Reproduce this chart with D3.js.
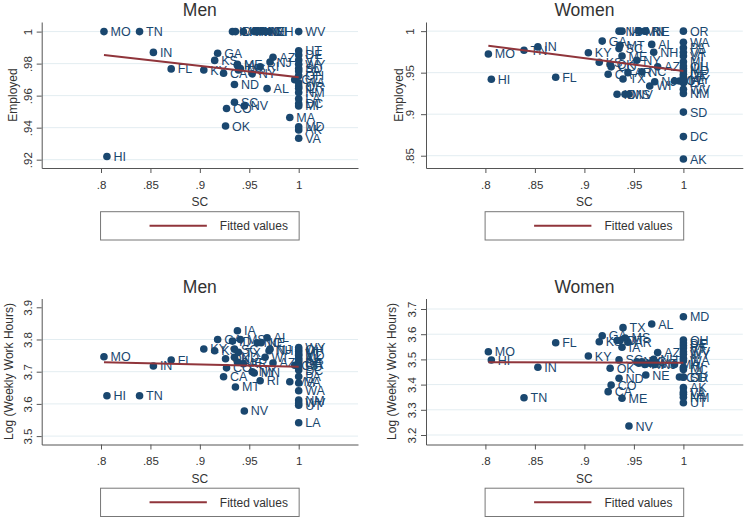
<!DOCTYPE html>
<html>
<head>
<meta charset="utf-8">
<script src="https://cdn.jsdelivr.net/npm/d3@7"></script>
<style>
  body { margin: 0; background: #fff; }
  text { font-family: "Liberation Sans", Arial, sans-serif; }
</style>
</head>
<body>
<script>
// states and their SC value (same x for every panel)
var states = ["AL","AK","AZ","AR","CA","CO","CT","DE","DC","FL","GA","HI","ID","IL","IN","IA","KS","KY","LA","ME","MD","MA","MI","MN","MS","MO","MT","NE","NV","NH","NJ","NM","NY","NC","ND","OH","OK","OR","PA","RI","SC","SD","TN","TX","UT","VT","VA","WA","WV","WI","WY"];
var sc = [.968,1,.974,.944,.924,.927,.996,1,1,.871,.918,.806,.933,1,.853,.938,.915,.904,1,.938,1,.991,1,.955,.941,.803,.936,.962,.945,.970,.971,1,.953,.958,.935,1,.926,1,1,.961,.935,1,.839,.939,1,1,1,1,1,.966,1];

var menEmp = [.9644,.9386,.984,1,.974,.952,.970,.9854,.955,.9767,.9865,.922,1,.9646,.987,.979,.982,.976,.958,.9795,.9406,.9463,.9536,1,.977,1,1,1,.9536,1,.981,.962,.9736,1,.967,.9725,.941,.966,.9754,.978,.9559,.977,1,.976,.988,.9823,.9334,.968,1,1,.9796];
var womenEmp = [.984,.846,.957,.95,.948,.957,.94,.948,.873,.9445,.988,.942,.924,.955,.981,1,.9625,.974,.938,.97,.952,.94,.963,1,.924,.9725,.983,1,.924,.9745,.939,.925,.965,.951,1,.958,.96,1,.98,1,.979,.9025,.977,.9424,.945,.97,.9746,.9866,.93,.934,.942];
var menHrs = [3.8056,3.742,3.727,3.725,3.6845,3.712,3.72,3.73,3.705,3.736,3.80,3.6255,3.795,3.736,3.7177,3.827,3.765,3.7705,3.5416,3.73,3.75,3.669,3.762,3.696,3.80,3.7466,3.6525,3.79,3.578,3.765,3.77,3.612,3.70,3.79,3.745,3.768,3.74,3.722,3.685,3.672,3.77,3.716,3.6255,3.76,3.596,3.755,3.665,3.641,3.603,3.745,3.775];
var womenHrs = [3.6405,3.388,3.527,3.568,3.372,3.398,3.43,3.565,3.46,3.566,3.594,3.4976,3.575,3.505,3.4686,3.548,3.57,3.5135,3.362,3.3456,3.6695,3.48,3.469,3.485,3.585,3.5306,3.575,3.438,3.2357,3.50,3.48,3.35,3.49,3.49,3.425,3.577,3.465,3.43,3.555,3.48,3.498,3.429,3.348,3.626,3.328,3.545,3.37,3.495,3.53,3.485,3.52];

// fitted values at the ends of the SC range
var fitX = [.803, 1];
var fitMenEmp = [.9854, .9715];
var fitWomenEmp = [.9825, .952];
var fitMenHrs = [3.7292, 3.7155];
var fitWomenHrs = [3.4885, 3.487];

var xTicks = [.8, .85, .9, .95, 1];
var menEmpTicks = [.92, .94, .96, .98, 1];
var womenEmpTicks = [.85, .9, .95, 1];
var menHrsTicks = [3.5, 3.6, 3.7, 3.8, 3.9];
var womenHrsTicks = [3.2, 3.3, 3.4, 3.5, 3.6, 3.7];

var navy = "#1a476f", maroon = "#90353b";
var fmt = function(v){ return String(+v.toFixed(3)).replace(/^0\./, "."); };

var svg = d3.select("body").append("svg")
    .attr("width", 746)
    .attr("height", 519);

var panels = [
  {title:"Men", ytitle:"Employed", vals:menEmp, fit:fitMenEmp, ticks:menEmpTicks, grid:menEmpTicks,
   yDomain:[.9148, 1.006], left:41.7, right:358, top:22, bottom:168, labOff:13.4, titleOff:29.4},
  {title:"Women", ytitle:"Employed", vals:womenEmp, fit:fitWomenEmp, ticks:womenEmpTicks, grid:womenEmpTicks,
   yDomain:[.8352, 1.011], left:426, right:742.8, top:22, bottom:168, labOff:16, titleOff:27.7},
  {title:"Men", ytitle:"Log (Weekly Work Hours)", vals:menHrs, fit:fitMenHrs, ticks:menHrsTicks, grid:[3.5,3.6,3.7,3.8],
   yDomain:[3.4739, 3.9273], left:41.7, right:358, top:298.5, bottom:444.5, labOff:13.4, titleOff:33.4},
  {title:"Women", ytitle:"Log (Weekly Work Hours)", vals:womenHrs, fit:fitWomenHrs, ticks:womenHrsTicks, grid:womenHrsTicks,
   yDomain:[3.1623, 3.7417], left:426, right:742.8, top:298.5, bottom:444.5, labOff:14, titleOff:34}
];

panels.forEach(function(p){
  var x = d3.scaleLinear().domain([.74, 1.06]).range([p.left, p.right]);
  var y = d3.scaleLinear().domain(p.yDomain).range([p.bottom, p.top]);
  var cx = (p.left + p.right) / 2;
  var g = svg.append("g");

  g.selectAll(".grid")
    .data(p.grid)
    .enter()
    .append("line")
    .attr("x1", p.left).attr("x2", p.right)
    .attr("y1", d => y(d)).attr("y2", d => y(d))
    .attr("stroke", "#e3edf1")
    .attr("stroke-width", 1);

  var ya = g.append("g")
    .attr("transform", "translate(" + p.left + ",0)")
    .call(d3.axisLeft(y).tickValues(p.ticks).tickSize(5).tickSizeOuter(0).tickFormat(fmt));
  ya.selectAll("text")
    .attr("x", 0).attr("dy", "0.35em")
    .attr("text-anchor", "middle")
    .attr("transform", "translate(" + (-p.labOff) + ",0) rotate(-90)")
    .style("font-size", "11.5px").attr("fill", "#333");

  var xa = g.append("g")
    .attr("transform", "translate(0," + p.bottom + ")")
    .call(d3.axisBottom(x).tickValues(xTicks).tickSize(5).tickSizeOuter(0).tickFormat(fmt));
  xa.selectAll("text").attr("y", 12.5).style("font-size", "11.5px").attr("fill", "#333");

  [ya, xa].forEach(function(a){
    a.select(".domain").attr("stroke", "#555");
    a.selectAll(".tick line").attr("stroke", "#555");
  });

  g.append("text")
    .attr("x", cx).attr("y", p.top - 6)
    .attr("text-anchor", "middle")
    .style("font-size", "17.5px").attr("fill", "#333")
    .text(p.title);

  g.append("text")
    .attr("transform", "translate(" + (p.left - p.titleOff) + "," + ((p.top + p.bottom) / 2) + ") rotate(-90)")
    .attr("dy", "0.35em")
    .attr("text-anchor", "middle")
    .style("font-size", "12px").attr("fill", "#333")
    .text(p.ytitle);

  g.append("text")
    .attr("x", cx).attr("y", p.bottom + 38)
    .attr("text-anchor", "middle")
    .style("font-size", "12px").attr("fill", "#333")
    .text("SC");

  // scatter + marker labels
  var pts = states.map((s, i) => ({s: s, sc: sc[i], v: p.vals[i]}));
  g.selectAll(".dot")
    .data(pts)
    .enter()
    .append("circle")
    .attr("cx", d => x(d.sc))
    .attr("cy", d => y(d.v))
    .attr("r", 3.8)
    .attr("fill", navy);
  g.selectAll(".lab")
    .data(pts)
    .enter()
    .append("text")
    .attr("x", d => x(d.sc) + 6.5)
    .attr("y", d => y(d.v))
    .attr("dy", "0.36em")
    .style("font-size", "12.5px")
    .attr("fill", navy)
    .text(d => d.s);

  // fitted line
  var line = d3.line().x(d => x(d[0])).y(d => y(d[1]));
  g.append("path")
    .datum(fitX.map((v, i) => [v, p.fit[i]]))
    .attr("d", line)
    .attr("fill", "none")
    .attr("stroke", maroon)
    .attr("stroke-width", 2);

  // legend
  var bx = cx - 99.3, by = p.bottom + 43.7;
  g.append("rect")
    .attr("x", bx).attr("y", by)
    .attr("width", 198.6).attr("height", 28.3)
    .attr("fill", "#fff").attr("stroke", "#777");
  g.append("line")
    .attr("x1", bx + 49).attr("x2", bx + 106.3)
    .attr("y1", by + 14.1).attr("y2", by + 14.1)
    .attr("stroke", maroon).attr("stroke-width", 2);
  g.append("text")
    .attr("x", bx + 119.3).attr("y", by + 14.1)
    .attr("dy", "0.35em")
    .style("font-size", "12px").attr("fill", "#333")
    .text("Fitted values");
});
</script>
</body>
</html>
